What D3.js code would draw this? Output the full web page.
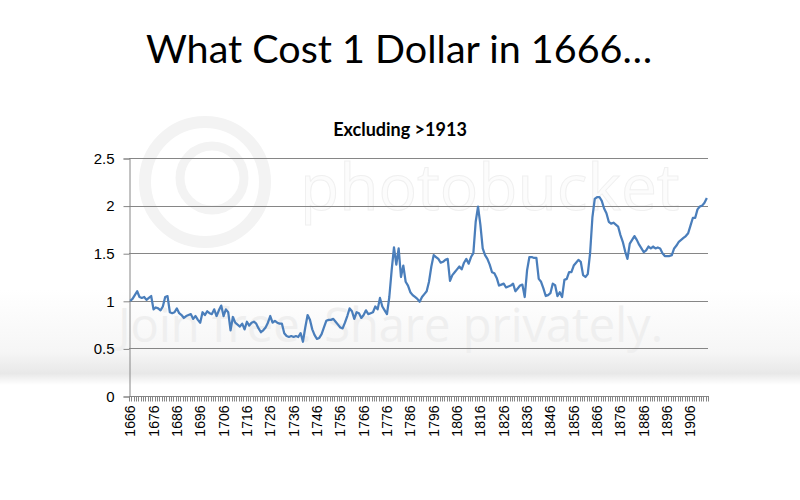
<!DOCTYPE html>
<html>
<head>
<meta charset="utf-8">
<script src="https://cdn.jsdelivr.net/npm/d3@7"></script>
<style>
  body { margin: 0; background: #fff; }
  svg { display: block; }
</style>
</head>
<body>
<svg id="chart" width="800" height="500"></svg>
<script>
// price index, one value per year starting 1666
var firstYear = 1666;
var prices = [
  1.00, 1.02, 1.06, 1.10, 1.04, 1.03, 1.04, 1.01, 1.03, 1.05,
  0.91, 0.93, 0.92, 0.90, 0.94, 1.04, 1.05, 0.88, 0.87, 0.88,
  0.92, 0.87, 0.85, 0.82, 0.84, 0.85, 0.86, 0.81, 0.84, 0.80,
  0.77, 0.88, 0.85, 0.89, 0.87, 0.86, 0.91, 0.84, 0.90, 0.95,
  0.84, 0.91, 0.88, 0.69, 0.83, 0.77, 0.75, 0.73, 0.76, 0.70,
  0.78, 0.74, 0.77, 0.78, 0.76, 0.71, 0.67, 0.69, 0.72, 0.77,
  0.84, 0.77, 0.79, 0.77, 0.76, 0.76, 0.66, 0.63, 0.62, 0.63,
  0.62, 0.63, 0.62, 0.66, 0.57, 0.72, 0.85, 0.80, 0.70, 0.64,
  0.60, 0.61, 0.65, 0.72, 0.79, 0.80, 0.80, 0.81, 0.78, 0.75,
  0.72, 0.71, 0.77, 0.84, 0.92, 0.89, 0.81, 0.88, 0.87, 0.82,
  0.85, 0.90, 0.86, 0.87, 0.88, 0.94, 0.91, 1.03, 0.94, 0.90,
  0.86, 1.04, 1.32, 1.56, 1.38, 1.55, 1.25, 1.37, 1.20, 1.16,
  1.09, 1.06, 1.04, 1.02, 0.99, 1.04, 1.07, 1.10, 1.20, 1.36,
  1.48, 1.46, 1.44, 1.40, 1.41, 1.43, 1.44, 1.21, 1.27, 1.30,
  1.33, 1.36, 1.33, 1.40, 1.44, 1.39, 1.46, 1.50, 1.83, 1.99,
  1.80, 1.55, 1.48, 1.44, 1.38, 1.30, 1.29, 1.24, 1.16, 1.17,
  1.18, 1.14, 1.15, 1.16, 1.18, 1.10, 1.13, 1.16, 1.17, 1.04,
  1.32, 1.46, 1.46, 1.45, 1.45, 1.23, 1.20, 1.13, 1.05, 1.06,
  1.08, 1.18, 1.165, 1.05, 1.09, 1.04, 1.22, 1.23, 1.30, 1.30,
  1.37, 1.40, 1.43, 1.41, 1.27, 1.25, 1.28, 1.50, 1.88, 2.07,
  2.09, 2.09, 2.05, 1.97, 1.92, 1.83, 1.81, 1.82, 1.80, 1.78,
  1.69, 1.62, 1.52, 1.44, 1.60, 1.64, 1.68, 1.64, 1.59, 1.55,
  1.51, 1.53, 1.57, 1.55, 1.57, 1.55, 1.56, 1.55, 1.50, 1.47,
  1.47, 1.47, 1.48, 1.55, 1.58, 1.62, 1.64, 1.66, 1.68, 1.71,
  1.79, 1.87, 1.87, 1.96, 1.99, 2.00, 2.03, 2.08
];
var years = d3.range(firstYear, firstYear + prices.length);
var labelYears = [1666, 1676, 1686, 1696, 1706, 1716, 1726, 1736, 1746, 1756,
                  1766, 1776, 1786, 1796, 1806, 1816, 1826, 1836, 1846, 1856,
                  1866, 1876, 1886, 1896, 1906];
var yTicks = [0, 0.5, 1, 1.5, 2, 2.5];

var svg = d3.select("#chart");
var plotLeft = 129, plotRight = 708, plotTop = 158, plotBottom = 396;

// --- faint photobucket watermark behind the chart
var defs = svg.append("defs");
var grad = defs.append("linearGradient").attr("id", "band")
    .attr("x1", 0).attr("y1", 0).attr("x2", 0).attr("y2", 1);
grad.append("stop").attr("offset", "0%").attr("stop-color", "#fff");
grad.append("stop").attr("offset", "65%").attr("stop-color", "#f6f6f6");
grad.append("stop").attr("offset", "88%").attr("stop-color", "#e8e8e8");
grad.append("stop").attr("offset", "100%").attr("stop-color", "#fff");
svg.append("rect").attr("x", 0).attr("y", 290).attr("width", 800).attr("height", 95)
    .attr("fill", "url(#band)");
svg.append("circle").attr("cx", 205).attr("cy", 182).attr("r", 60)
    .attr("fill", "none").attr("stroke", "#f3f3f3").attr("stroke-width", 12);
svg.append("circle").attr("cx", 212).attr("cy", 178).attr("r", 32)
    .attr("fill", "none").attr("stroke", "#f3f3f3").attr("stroke-width", 9);
svg.append("text").attr("x", 300).attr("y", 210)
    .attr("font-family", "Open Sans, sans-serif").attr("font-size", 64)
    .attr("fill", "#fcfcfc").attr("stroke", "#f0f0f0").attr("stroke-width", 1)
    .text("photobucket");
svg.append("text").attr("x", 118).attr("y", 342)
    .attr("font-family", "Open Sans, sans-serif").attr("font-size", 47)
    .attr("fill", "#efefef")
    .text("Join free. Share privately.");

// --- scales
var x = d3.scaleBand().domain(years).range([plotLeft, plotRight]).padding(0);
var y = d3.scaleLinear().domain([0, 2.5]).range([plotBottom, plotTop]);

// gridlines
svg.append("g").selectAll("line")
    .data(yTicks.filter(function(d){ return d > 0; }))
  .enter().append("line")
    .attr("x1", plotLeft).attr("x2", plotRight)
    .attr("y1", function(d){ return Math.round(y(d)) + 0.5; })
    .attr("y2", function(d){ return Math.round(y(d)) + 0.5; })
    .attr("stroke", "#868686").attr("stroke-width", 1);

// y axis
var yAxis = svg.append("g")
    .attr("transform", "translate(" + (plotLeft + 0.5) + ",0.5)")
    .call(d3.axisLeft(y).tickValues(yTicks).tickSize(6).tickPadding(9)
      .tickFormat(function(d){ return String(d); }));
yAxis.select(".domain").attr("stroke", "#868686");
yAxis.selectAll(".tick line").attr("stroke", "#868686");
yAxis.selectAll("text")
    .attr("font-family", "Liberation Sans, Arial, sans-serif")
    .attr("font-size", 15).attr("fill", "#000");

// x axis: a tick at every category boundary
var xg = svg.append("g").attr("transform", "translate(0," + (plotBottom + 0.5) + ")");
xg.append("line").attr("x1", plotLeft).attr("x2", plotRight + 1)
    .attr("stroke", "#868686");
xg.selectAll(".tk").data(years.concat([null]))
  .enter().append("line")
    .attr("class", "tk")
    .attr("x1", function(d, i){ return Math.round(plotLeft + i * x.step()) + 0.5; })
    .attr("x2", function(d, i){ return Math.round(plotLeft + i * x.step()) + 0.5; })
    .attr("y1", 0).attr("y2", 5)
    .attr("stroke", "#868686");
xg.selectAll(".lbl").data(labelYears)
  .enter().append("text")
    .attr("class", "lbl")
    .attr("transform", function(d){
      return "translate(" + (x(d) + x.bandwidth() / 2 + 5) + ",9) rotate(-90)";
    })
    .attr("text-anchor", "end")
    .attr("font-family", "Liberation Sans, Arial, sans-serif")
    .attr("font-size", 14)
    .text(function(d){ return d; });

// the line
var line = d3.line()
    .x(function(d, i){ return x(years[i]) + x.bandwidth() / 2; })
    .y(function(d){ return y(d); });
svg.append("path").datum(prices)
    .attr("d", line)
    .attr("fill", "none")
    .attr("stroke", "#4a7ebb")
    .attr("stroke-width", 2.25)
    .attr("stroke-linejoin", "round");

// titles
svg.append("text").attr("x", 399).attr("y", 63)
    .attr("text-anchor", "middle")
    .attr("font-family", "Lato, sans-serif").attr("font-size", 39.5)
    .text("What Cost 1 Dollar in 1666…");
svg.append("text").attr("x", 400).attr("y", 136)
    .attr("text-anchor", "middle")
    .attr("font-family", "Lato, sans-serif").attr("font-weight", "bold")
    .attr("font-size", 18)
    .text("Excluding >1913");
</script>
</body>
</html>
